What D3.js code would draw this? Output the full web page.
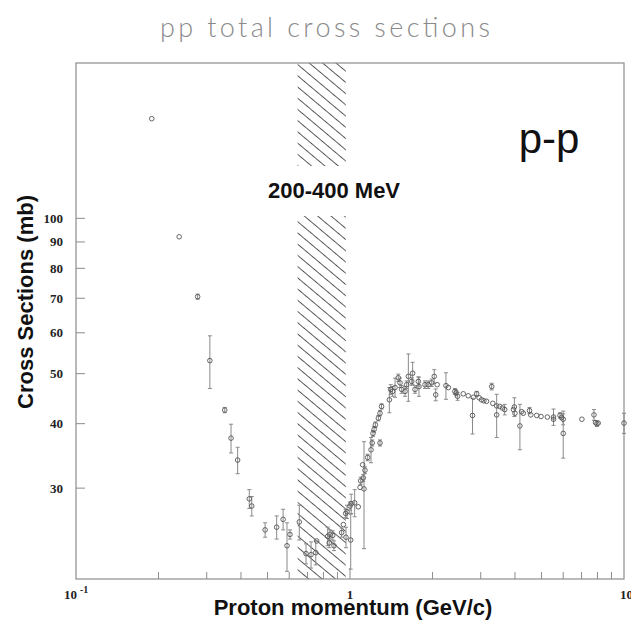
<!DOCTYPE html>
<html>
<head>
<meta charset="utf-8">
<script src="https://cdn.jsdelivr.net/npm/d3@7"></script>
<style>
  body { margin: 0; background: #fff; }
  svg { display: block; }
</style>
</head>
<body>
<div id="chart"></div>
<script>
// pp total cross section data
// momentum in GeV/c, cross section in mb, error (+/-) in mb (0 = no bar drawn)
const momentum = [
  0.189, 0.238, 0.278, 0.308, 0.349, 0.368, 0.389, 0.429, 0.438, 0.490,
  0.540, 0.570, 0.589, 0.604, 0.653, 0.691, 0.721, 0.750, 0.756, 0.829,
  0.845, 0.865, 0.840, 0.874, 0.932, 0.946, 0.964, 0.967, 0.975, 1.000,
  1.006, 1.010, 1.040, 1.072, 1.088, 1.094, 1.118, 1.112, 1.125, 1.134,
  1.160, 1.193, 1.205, 1.213, 1.225, 1.238, 1.287, 1.269, 1.287, 1.304,
  1.392, 1.408, 1.430, 1.460, 1.500, 1.522, 1.544, 1.588, 1.610, 1.633,
  1.680, 1.693, 1.727, 1.776, 1.785, 1.878, 1.930, 1.987, 2.030, 2.055,
  2.080, 2.240, 2.286, 2.414, 2.440, 2.470, 2.590, 2.700, 2.800, 2.820,
  2.900, 2.960, 3.020, 3.080, 3.150, 3.290, 3.320, 3.430, 3.430, 3.520,
  3.600, 3.670, 3.950, 3.980, 4.000, 4.170, 4.230, 4.290, 4.520, 4.570,
  4.800, 4.980, 5.250, 5.530, 5.530, 5.840, 5.920, 6.000, 6.000, 7.020,
  7.770, 7.870, 7.960, 8.050, 10.00
];
const crossSection = [
  156, 92.1, 70.5, 53.0, 42.5, 37.5, 34.0, 28.6, 27.7, 24.9,
  25.2, 26.1, 23.2, 24.4, 25.8, 22.4, 22.3, 22.5, 23.7, 24.2,
  24.4, 24.3, 23.5, 23.2, 24.6, 25.5, 26.8, 24.1, 27.0, 27.7,
  23.8, 28.0, 28.1, 27.6, 30.1, 31.0, 31.4, 33.3, 29.9, 32.5,
  34.4, 35.6, 36.7, 38.3, 39.0, 39.8, 36.7, 41.0, 41.9, 43.2,
  44.5, 46.6, 46.2, 47.0, 49.1, 48.0, 46.6, 46.2, 47.6, 49.4,
  48.3, 50.1, 46.6, 48.3, 47.2, 47.6, 47.6, 48.0, 49.4, 45.5,
  47.6, 47.4, 47.0, 46.2, 45.9, 45.2, 45.7, 45.3, 41.5, 45.0,
  45.7, 44.9, 44.5, 44.3, 44.2, 47.2, 43.8, 43.3, 41.6, 43.2,
  42.9, 42.6, 42.6, 43.1, 41.9, 39.6, 42.2, 41.9, 42.4, 41.6,
  41.5, 41.3, 41.2, 41.2, 40.8, 41.5, 41.1, 40.8, 38.3, 40.8,
  41.6, 40.2, 40.0, 40.1, 40.1
];
const errors = [
  0, 0, 0.8, 6.2, 0.5, 2.4, 2.0, 1.2, 1.2, 0.8,
  1.3, 1.2, 2.5, 0.5, 2.0, 1.0, 1.3, 1.2, 0, 1.0,
  0.5, 0.5, 0.5, 0.5, 0.5, 0, 0.5, 1.1, 0.8, 0.5,
  2.9, 1.2, 1.7, 0, 0, 0.5, 0.5, 0, 7.0, 0.5,
  0.5, 2.0, 0.5, 0.5, 0.5, 0.5, 0.5, 0.5, 0.5, 0.5,
  2.5, 1.0, 1.0, 2.0, 0.8, 1.0, 0.8, 1.0, 0.8, 5.2,
  0.8, 2.5, 0.8, 1.0, 2.0, 0.8, 0.8, 0.8, 1.5, 1.2,
  0, 2.8, 0, 0.6, 0.6, 0.8, 0, 0, 3.3, 0,
  0.5, 0, 0, 0, 0, 0.7, 0, 0, 4.0, 0,
  0, 1.0, 0, 1.8, 0, 4.0, 0, 0, 0.6, 0,
  0, 0, 0, 1.5, 0, 0.5, 0, 1.0, 4.0, 0,
  1.0, 0, 0.5, 0, 1.8
];

// 200-400 MeV kinetic energy band, as momentum (GeV/c)
const band = [0.644, 0.965];
const bandLabel = '200-400 MeV';

const xTickMajor = [1];
const xTickMinor = [0.2, 0.3, 0.4, 0.5, 0.6, 0.7, 0.8, 0.9, 2, 3, 4, 5, 6, 7, 8, 9];
const yTicks = [30, 40, 50, 60, 70, 80, 90, 100];

const W = 631, H = 620;

const svg = d3.select('#chart')
  .append('svg')
    .attr('width', W)
    .attr('height', H);

// Scales (log both ways)
const x = d3.scaleLog().domain([0.1, 10]).range([76, 624]);
const y = d3.scaleLog().domain([20, 200]).range([579, 63]);

// Hatch pattern for the energy band
const defs = svg.append('defs');
defs.append('pattern')
    .attr('id', 'hatch')
    .attr('patternUnits', 'userSpaceOnUse')
    .attr('width', 20)
    .attr('height', 8.6)
    .attr('patternTransform', 'rotate(40)')
  .append('line')
    .attr('x1', 0).attr('x2', 20)
    .attr('y1', 4.3).attr('y2', 4.3)
    .attr('stroke', '#555')
    .attr('stroke-width', 1);

// Title
svg.append('text')
  .attr('x', 325)
  .attr('y', 37)
  .attr('text-anchor', 'middle')
  .attr('textLength', 330)
  .attr('lengthAdjust', 'spacing')
  .style('font-family', 'Lato, "DejaVu Sans", sans-serif')
  .style('font-weight', 300)
  .style('font-size', '27px')
  .attr('fill', '#8a8a8a')
  .text('pp total cross sections');

// Band
svg.append('rect')
  .attr('x', x(band[0]))
  .attr('y', y.range()[1])
  .attr('width', x(band[1]) - x(band[0]))
  .attr('height', y.range()[0] - y.range()[1])
  .attr('fill', 'url(#hatch)');

// white gap behind band label
svg.append('rect')
  .attr('x', x(band[0]) - 1)
  .attr('y', 166)
  .attr('width', x(band[1]) - x(band[0]) + 2)
  .attr('height', 50)
  .attr('fill', '#fff');

svg.append('text')
  .attr('x', 334)
  .attr('y', 198)
  .attr('text-anchor', 'middle')
  .style('font-family', '"Liberation Sans", Arial, sans-serif')
  .style('font-weight', 'bold')
  .style('font-size', '22px')
  .attr('fill', '#111')
  .text(bandLabel);

// Frame
const [x0, x1] = x.range();
const [y0, y1] = y.range();
svg.append('rect')
  .attr('x', x0).attr('y', y1)
  .attr('width', x1 - x0).attr('height', y0 - y1)
  .attr('fill', 'none')
  .attr('stroke', '#8c8c8c')
  .attr('stroke-width', 1.2);

// X ticks (inside, pointing up)
svg.append('g')
  .selectAll('line')
  .data(xTickMinor.map(v => ({ v, len: 7 })).concat(xTickMajor.map(v => ({ v, len: 11 }))))
  .join('line')
    .attr('x1', d => x(d.v)).attr('x2', d => x(d.v))
    .attr('y1', y0).attr('y2', d => y0 - d.len)
    .attr('stroke', '#8c8c8c')
    .attr('stroke-width', 1);

// Y ticks (inside, pointing right)
svg.append('g')
  .selectAll('line')
  .data(yTicks)
  .join('line')
    .attr('x1', x0).attr('x2', x0 + 9)
    .attr('y1', d => y(d)).attr('y2', d => y(d))
    .attr('stroke', '#8c8c8c')
    .attr('stroke-width', 1);

const tickFont = sel => sel
  .style('font-family', '"Liberation Serif", "Times New Roman", serif')
  .style('font-weight', 'bold')
  .style('font-size', '13px')
  .attr('fill', '#222');

svg.append('g')
  .selectAll('text')
  .data(yTicks)
  .join('text')
    .attr('x', 63)
    .attr('y', d => y(d))
    .attr('dy', '0.35em')
    .attr('text-anchor', 'end')
    .call(tickFont)
    .text(d => d);

// X tick labels: 10^-1, 1, 10
const lab1 = svg.append('text')
  .attr('x', 64).attr('y', 599)
  .call(tickFont);
lab1.append('tspan').text('10');
lab1.append('tspan')
  .attr('dx', 3).attr('dy', -6)
  .style('font-size', '10px')
  .text('-1');

svg.append('text')
  .attr('x', x(1)).attr('y', 599)
  .attr('text-anchor', 'middle')
  .call(tickFont)
  .text('1');

svg.append('text')
  .attr('x', x(10) - 4).attr('y', 599)
  .call(tickFont)
  .text('10');

// Axis titles
svg.append('text')
  .attr('x', 353)
  .attr('y', 615)
  .attr('text-anchor', 'middle')
  .style('font-family', '"Liberation Sans", Arial, sans-serif')
  .style('font-weight', 'bold')
  .style('font-size', '22px')
  .attr('fill', '#111')
  .text('Proton momentum (GeV/c)');

svg.append('text')
  .attr('transform', 'translate(33,302) rotate(-90)')
  .attr('text-anchor', 'middle')
  .style('font-family', '"Liberation Sans", Arial, sans-serif')
  .style('font-weight', 'bold')
  .style('font-size', '22px')
  .attr('fill', '#111')
  .text('Cross Sections (mb)');

// p-p label
svg.append('text')
  .attr('x', 549)
  .attr('y', 153)
  .attr('text-anchor', 'middle')
  .style('font-family', '"Liberation Sans", Arial, sans-serif')
  .style('font-size', '42px')
  .attr('fill', '#111')
  .text('p-p');

// Data
const points = momentum.map((p, i) => ({ p, s: crossSection[i], e: errors[i] }));

const bars = svg.append('g')
  .attr('stroke', '#8a8a8a')
  .attr('stroke-width', 1)
  .selectAll('g')
  .data(points.filter(d => d.e > 0))
  .join('g');

bars.append('line')
  .attr('x1', d => x(d.p)).attr('x2', d => x(d.p))
  .attr('y1', d => y(d.s + d.e)).attr('y2', d => y(d.s - d.e));
bars.append('line')
  .attr('x1', d => x(d.p) - 2).attr('x2', d => x(d.p) + 2)
  .attr('y1', d => y(d.s + d.e)).attr('y2', d => y(d.s + d.e));
bars.append('line')
  .attr('x1', d => x(d.p) - 2).attr('x2', d => x(d.p) + 2)
  .attr('y1', d => y(d.s - d.e)).attr('y2', d => y(d.s - d.e));

svg.append('g')
  .selectAll('circle')
  .data(points)
  .join('circle')
    .attr('cx', d => x(d.p))
    .attr('cy', d => y(d.s))
    .attr('r', 2.3)
    .attr('fill', 'none')
    .attr('stroke', '#555')
    .attr('stroke-width', 0.9);
</script>
</body>
</html>
